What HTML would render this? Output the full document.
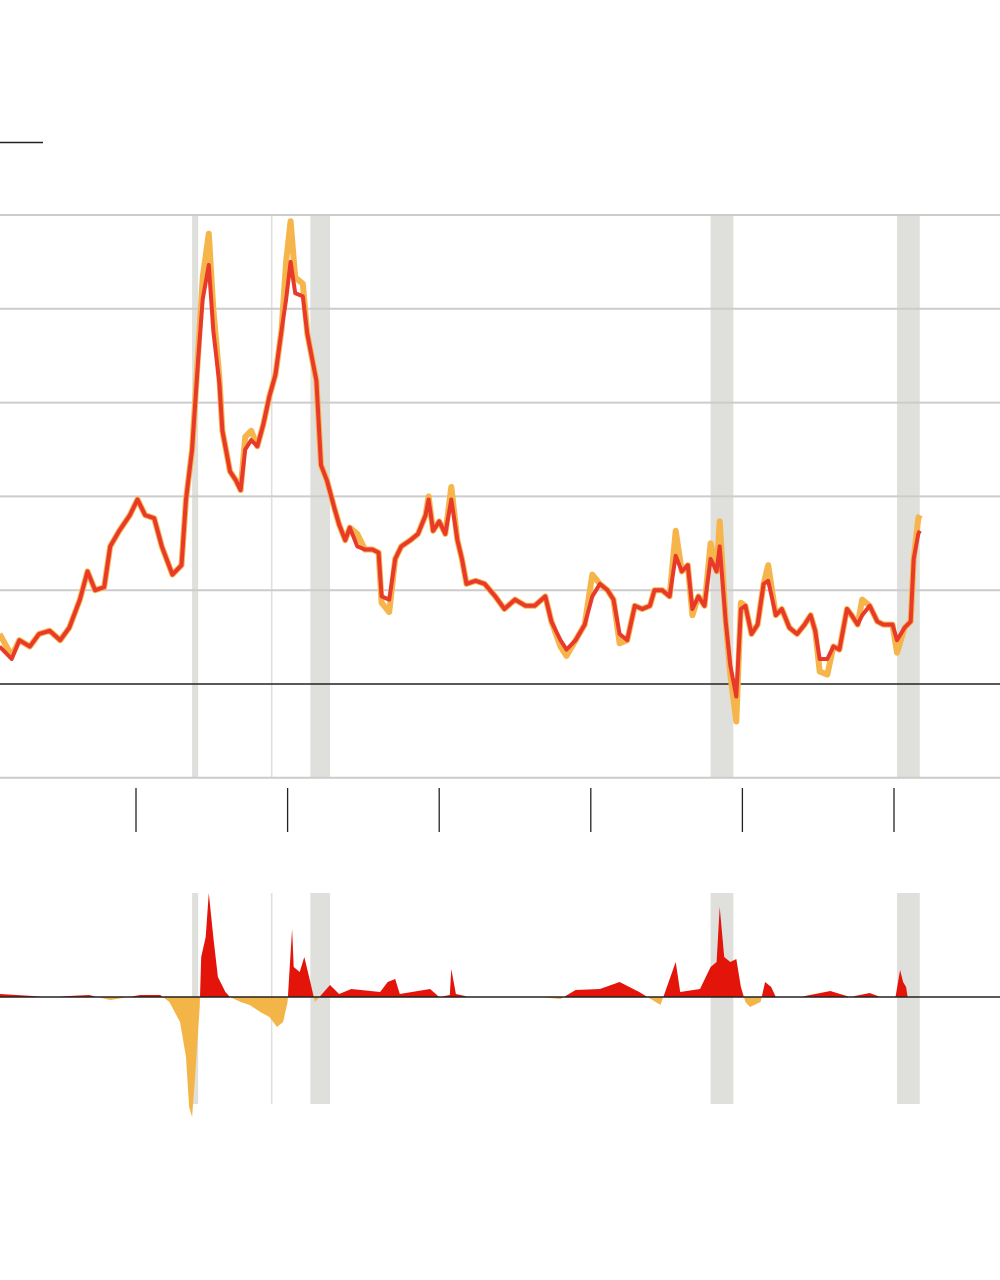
<!DOCTYPE html>
<html><head><meta charset="utf-8"><style>
html,body{margin:0;padding:0;background:#fff;width:1000px;height:1280px;overflow:hidden;font-family:"Liberation Sans",sans-serif}
svg{display:block}
</style></head><body>
<svg id="chart" width="1000" height="1280">
<line x1="0" y1="142.5" x2="43" y2="142.5" stroke="#222" stroke-width="1.5"/>
<g id="topPanel"></g>
<g id="bottomPanel"></g>
</svg>
<script>
const years=[1961.0,1961.8,1962.3,1963.0,1963.6,1964.3,1965.0,1965.6,1966.3,1966.8,1967.3,1967.9,1968.3,1968.9,1969.6,1970.1,1970.6,1971.2,1971.7,1972.4,1973.0,1973.3,1973.7,1974.1,1974.4,1974.8,1975.1,1975.5,1975.7,1976.2,1976.6,1976.9,1977.2,1977.6,1978.0,1978.4,1978.8,1979.2,1979.6,1979.9,1980.2,1980.5,1981.0,1981.3,1981.9,1982.2,1982.6,1983.1,1983.4,1983.8,1984.1,1984.6,1985.1,1985.6,1986.0,1986.2,1986.7,1987.1,1987.5,1988.1,1988.6,1989.1,1989.3,1989.6,1990.0,1990.4,1990.8,1991.2,1991.5,1991.8,1992.4,1993.0,1993.7,1994.3,1995.0,1995.7,1996.3,1997.0,1997.4,1998.0,1998.4,1999.0,1999.6,2000.1,2000.6,2001.1,2001.5,2001.9,2002.4,2002.9,2003.4,2003.9,2004.2,2004.7,2005.2,2005.6,2006.0,2006.4,2006.7,2007.1,2007.5,2007.9,2008.3,2008.5,2008.9,2009.2,2009.6,2009.9,2010.2,2010.6,2011.0,2011.4,2011.7,2012.2,2012.6,2013.1,2013.6,2014.1,2014.5,2014.8,2015.1,2015.6,2016.0,2016.4,2016.9,2017.2,2017.6,2017.9,2018.4,2018.9,2019.3,2019.9,2020.2,2020.7,2021.1,2021.3,2021.6,2021.7];
const coreValues=[1.2,0.8,1.4,1.2,1.6,1.7,1.4,1.8,2.7,3.6,3.0,3.1,4.4,4.9,5.4,5.9,5.4,5.3,4.4,3.5,3.8,5.9,7.5,10.4,12.3,13.4,11.3,9.6,8.1,6.8,6.5,6.2,7.5,7.8,7.6,8.3,9.2,9.9,11.3,12.3,13.5,12.5,12.4,11.2,9.7,7.0,6.5,5.6,5.1,4.6,5.0,4.4,4.3,4.3,4.2,2.8,2.7,4.0,4.4,4.6,4.8,5.4,5.9,4.9,5.2,4.8,5.9,4.6,4.0,3.2,3.3,3.2,2.8,2.4,2.7,2.5,2.5,2.8,2.0,1.4,1.1,1.4,1.9,2.8,3.2,3.0,2.7,1.6,1.4,2.5,2.4,2.5,3.0,3.0,2.8,4.1,3.6,3.8,2.4,2.8,2.5,4.0,3.6,4.4,2.0,0.6,-0.4,2.4,2.5,1.6,1.9,3.2,3.3,2.2,2.4,1.8,1.6,1.9,2.2,1.7,0.8,0.8,1.2,1.1,2.4,2.2,1.9,2.2,2.5,2.0,1.9,1.9,1.4,1.8,2.0,4.0,4.8,4.9];
const headlineValues=[1.6,0.9,1.4,1.2,1.6,1.7,1.4,1.8,2.7,3.6,3.0,3.1,4.4,4.9,5.4,5.9,5.4,5.3,4.4,3.5,3.8,5.9,7.5,10.6,13.0,14.4,12.0,9.8,8.1,6.8,6.5,6.2,7.9,8.1,7.6,8.3,9.2,9.9,11.3,13.5,14.8,13.0,12.8,11.2,9.7,7.0,6.5,5.6,5.1,4.6,5.0,4.8,4.3,4.3,4.2,2.6,2.3,4.0,4.4,4.6,4.8,5.4,6.0,4.9,5.2,4.8,6.3,4.6,4.0,3.2,3.3,3.2,2.8,2.4,2.7,2.5,2.5,2.8,2.0,1.2,0.9,1.4,1.9,3.5,3.2,3.0,2.7,1.3,1.4,2.5,2.4,2.5,3.0,3.0,2.8,4.9,3.6,3.8,2.2,2.8,2.5,4.5,3.6,5.2,2.0,0.3,-1.2,2.6,2.5,1.6,1.9,3.2,3.8,2.2,2.4,1.8,1.6,1.9,2.2,1.7,0.4,0.3,1.2,1.1,2.4,2.2,1.9,2.7,2.5,2.0,1.9,1.9,1.0,1.8,2.0,4.0,5.3,5.4];
const diffYears=[1961.0,1964.3,1966.9,1968.3,1970.3,1971.6,1972.2,1972.9,1973.3,1973.5,1973.7,1973.9,1974.2,1974.3,1974.6,1974.8,1975.1,1975.4,1975.9,1976.2,1976.9,1977.5,1978.2,1978.8,1979.3,1979.7,1980.0,1980.1,1980.3,1980.4,1980.8,1981.1,1981.5,1981.8,1982.1,1982.8,1983.4,1984.2,1986.1,1986.6,1987.1,1987.4,1989.4,1990.0,1990.7,1990.8,1991.1,1992.0,1996.6,1998.0,1999.0,2000.6,2001.9,2003.2,2004.6,2005.6,2005.9,2007.2,2007.9,2008.3,2008.5,2008.8,2009.2,2009.6,2009.9,2010.2,2010.5,2011.2,2011.5,2011.9,2012.2,2013.8,2015.8,2017.1,2018.4,2019.1,2020.1,2020.4,2020.6,2020.8,2020.9];
const diffValues=[0.15,0,0.1,-0.15,0.1,0.1,-0.25,-1.25,-3,-5.5,-6,-4,-0.5,2,3,5.2,3,1,0.25,0,-0.25,-0.4,-0.75,-1,-1.5,-1.25,-0.25,1,3.4,1.5,1.25,2,0.75,-0.25,0,0.6,0.15,0.4,0.25,0.75,0.9,0.15,0.4,0,0.1,1.4,0.15,0,0,-0.1,0.35,0.4,0.75,0.25,-0.4,1.75,0.25,0.4,1.5,1.75,4.5,2,1.75,1.9,0.5,-0.25,-0.5,-0.25,0.75,0.5,0,0,0.3,0,0.2,0,0,1.35,0.75,0.5,0];
const shadeStart=[1973.7,1978.9,1981.5,2007.9,2020.2];
const shadeEnd=[1974.1,1979.0,1982.8,2009.4,2021.7];
const yTicks=[-3,0,3,6,9,12,15];
const xTicks=[1970,1980,1990,2000,2010,2020];

const NS='http://www.w3.org/2000/svg';
const xs=t=>136+(t-1970)*15.16;
const yTop=v=>684-v*31.27;
const yBot=v=>997-v*20;
function mk(tag,attrs,parent){const e=document.createElementNS(NS,tag);for(const k in attrs)e.setAttribute(k,attrs[k]);parent.appendChild(e);return e;}
const gTop=document.getElementById('topPanel'),gBot=document.getElementById('bottomPanel');

shadeStart.forEach((s,i)=>{
  const a=mk('rect',{x:xs(s),y:215,width:xs(shadeEnd[i])-xs(s),height:563,fill:'#dfdfdb'},gTop);
  
  
  const b=mk('rect',{x:xs(s),y:893,width:xs(shadeEnd[i])-xs(s),height:211,fill:'#dfdfdb'},gBot);
  
  
});
yTicks.forEach(v=>{
  const l=mk('line',{x1:0,x2:1000,y1:yTop(v),y2:yTop(v),stroke:v===0?'#222':'#ccc','stroke-width':v===0?1.5:2},gTop);
  
  
});
xTicks.forEach(t=>{
  const l=mk('line',{x1:xs(t),x2:xs(t),y1:788,y2:832,stroke:'#222','stroke-width':1.3},gTop);
  
  
});
function linePath(vals,f){return vals.map((v,i)=>(i?'L':'M')+xs(years[i]).toFixed(1)+','+f(v).toFixed(1)).join('');}
const hl=mk('path',{d:linePath(headlineValues,yTop),fill:'none',stroke:'#f6b54a','stroke-width':6,'stroke-linejoin':'round'},gTop);


const cl=mk('path',{d:linePath(coreValues,yTop),fill:'none',stroke:'#e8392a','stroke-width':4,'stroke-linejoin':'round'},gTop);



const defs=mk('defs',{},gBot);
const c1=mk('clipPath',{id:'above'},defs);mk('rect',{x:0,y:0,width:1000,height:997},c1);
const c2=mk('clipPath',{id:'below'},defs);mk('rect',{x:0,y:997,width:1000,height:300},c2);
let d='M'+xs(diffYears[0])+','+yBot(0);
diffYears.forEach((t,i)=>{d+='L'+xs(t).toFixed(1)+','+yBot(diffValues[i]).toFixed(1);});
d+='L'+xs(diffYears[diffYears.length-1])+','+yBot(0)+'Z';
const pos=mk('path',{d:d,fill:'#e3140a','clip-path':'url(#above)'},gBot);


const neg=mk('path',{d:d,fill:'#f4b548','clip-path':'url(#below)'},gBot);


const zl=mk('line',{x1:0,x2:1000,y1:997,y2:997,stroke:'#222','stroke-width':1.5},gBot);


</script>
</body></html>
